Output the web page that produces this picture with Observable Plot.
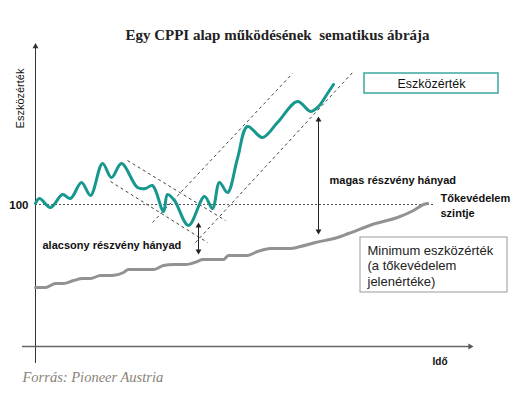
<!DOCTYPE html>
<html>
<head>
<meta charset="utf-8">
<script src="https://cdn.jsdelivr.net/npm/d3@7"></script>
<script src="https://cdn.jsdelivr.net/npm/@observablehq/plot@0.6"></script>
<style>
  html, body { margin: 0; padding: 0; background: #fff; }
</style>
</head>
<body>
<div id="chart"></div>
<script>
// Asset value (Eszközérték) — time units / value units
const tealT = [0,1,3.75,6.75,8.75,11.5,13.75,16.75,19,21.5,25.5,27.5,29.25,32,33,34.75,38.25,42.25,44.25,46,48,50.5,53,56.75,60.5,65.5,68.75,70.75,73,74.5];
const tealV = [100.5,103,98.5,105,103,111,104.5,120.5,113.5,120.5,108.5,108,109.5,96.5,105,102,89.5,104,98,111,106,123,139,133.5,141,151.5,146.5,149,155.5,160];

// Minimum asset value (floor)
const floorT = [0,2.5,5,7,9.5,11.75,13.75,16.25,19.25,22,23.25,29.5,32,34.5,37.5,40.5,41.75,47,48.25,53,55.5,58.75,63.75,66.25,70,75.5,78.25,85,90.5,94.5,97,98];
const floorV = [58.5,58.5,60.5,60.5,62,63,63,64.5,64.5,66,67.5,67.5,69.5,70,70,71.5,72.5,72.5,74.5,74.5,76.5,78,78,79,81,83.5,85.5,90.5,93.5,97,100,100.5];

// Capital protection level
const protectionLevel = 100;
const protectionEnd = 99.5;

// Dashed channel guides [x1, y1, x2, y2]
const guideLines = [
  [23, 122, 47.5, 92],
  [18.75, 111.5, 43, 81],
  [29.25, 91, 64.25, 165.5],
  [40, 81, 79.5, 166.5]
];

// Equity-share arrows [x, yTop, yBottom]
const shareArrows = [
  [40.75, 90.5, 75.5],
  [70.75, 143.5, 85.5]
];

// Axis extents
const yAxisExtent = [20.5, 180.5];
const xAxisExtent = [-3.25, 109.25];
const xAxisY = 29;

const title = "Egy CPPI alap működésének  sematikus ábrája";
const caption = "Forrás: Pioneer Austria";
const yLabel = "Eszközérték";
const xLabel = "Idő";
const tick100 = "100";
const lowLabel = "alacsony részvény hányad";
const highLabel = "magas részvény hányad";
const protectLabel = ["Tőkevédelem", "szintje"];
const legendTeal = "Eszközérték";
const legendFloor = ["Minimum eszközérték", "(a tőkevédelem", "jelenértéke)"];

const teal = tealT.map((t, i) => ({t, v: tealV[i]}));
const floor = floorT.map((t, i) => ({t, v: floorV[i]}));
const guides = guideLines.map(([x1, y1, x2, y2]) => ({x1, y1, x2, y2}));
const arrows = shareArrows.map(([x, top, bot]) => ({x, top, bot}));

const sans = "Liberation Sans, Arial, sans-serif";
const serif = "Liberation Serif, Times New Roman, serif";

const plot = Plot.plot({
  width: 528,
  height: 397,
  marginLeft: 35,
  marginRight: 56,
  marginTop: 43,
  marginBottom: 51,
  x: {domain: [0, 109.25], axis: null},
  y: {domain: [29, 180.5], axis: null},
  style: {background: "#fff", overflow: "visible"},
  marks: [
    // axes
    Plot.ruleX([0], {x: d => d, y1: yAxisExtent[0], y2: yAxisExtent[1] - 1, stroke: "#333", strokeWidth: 1}),
    Plot.dot([0], {x: d => d, y: yAxisExtent[1] - 1.5, symbol: "triangle", r: 2.2, fill: "#333", stroke: "none"}),
    Plot.ruleY([xAxisY], {y: d => d, x1: xAxisExtent[0], x2: xAxisExtent[1] - 0.5, stroke: "#666", strokeWidth: 1.3}),
    Plot.dot([xAxisY], {y: d => d, x: xAxisExtent[1] - 0.6, symbol: "triangle", rotate: 90, r: 2.2, fill: "#555", stroke: "none"}),

    // protection level
    Plot.ruleY([protectionLevel], {y: d => d, x1: 0, x2: protectionEnd, stroke: "#555", strokeWidth: 1, strokeDasharray: "2,2"}),

    // guides
    Plot.link(guides, {x1: "x1", y1: "y1", x2: "x2", y2: "y2", stroke: "#444", strokeWidth: 1, strokeDasharray: "3,3"}),

    // floor line
    Plot.line(floor, {x: "t", y: "v", stroke: "#929292", strokeWidth: 3, curve: "monotone-x"}),

    // asset value line
    Plot.line(teal, {x: "t", y: "v", stroke: "#17978d", strokeWidth: 3, curve: "catmull-rom"}),

    // double arrows
    Plot.ruleX(arrows, {x: "x", y1: d => d.top - 1, y2: d => d.bot + 1, stroke: "#222", strokeWidth: 1}),
    Plot.dot(arrows, {x: "x", y: d => d.top - 1.2, symbol: "triangle", r: 2.2, fill: "#222", stroke: "none"}),
    Plot.dot(arrows, {x: "x", y: d => d.bot + 1.2, symbol: "triangle", rotate: 180, r: 2.2, fill: "#222", stroke: "none"}),

    // legend boxes
    Plot.rect([legendTeal], {x1: 82.25, x2: 115.75, y1: 155.5, y2: 165.5, fill: "#fff", stroke: "#3aa9a0", strokeWidth: 1.5}),
    Plot.text([legendTeal], {x: 99, y: 160.5, text: d => d, fontFamily: sans, fontSize: 12.5, fill: "#111"}),
    Plot.rect([legendFloor], {x1: 81.25, x2: 118, y1: 56, y2: 83.5, fill: "#fff", stroke: "#999", strokeWidth: 1}),
    Plot.text(legendFloor, {x: 83, y: (d, i) => 77 - i * 7.75, text: d => d, textAnchor: "start", fontFamily: sans, fontSize: 13, fill: "#222"}),

    // labels
    Plot.text([tick100], {x: -1.75, y: 99.5, text: d => d, textAnchor: "end", fontFamily: sans, fontSize: 11.5, fontWeight: "bold", fill: "#111"}),
    Plot.text([yLabel], {x: -3.75, y: 153, text: d => d, rotate: -90, fontFamily: sans, fontSize: 11, fill: "#111"}),
    Plot.text([xLabel], {x: 99.25, y: 21.5, text: d => d, textAnchor: "start", fontFamily: sans, fontSize: 10, fontWeight: "bold", fill: "#111"}),
    Plot.text([lowLabel], {x: 1.75, y: 79.5, text: d => d, textAnchor: "start", fontFamily: sans, fontSize: 11, fontWeight: "bold", fill: "#111"}),
    Plot.text([highLabel], {x: 73.5, y: 112, text: d => d, textAnchor: "start", fontFamily: sans, fontSize: 11, fontWeight: "bold", fill: "#111"}),
    Plot.text(protectLabel, {x: 101.25, y: (d, i) => 103 - i * 7.5, text: d => d, textAnchor: "start", fontFamily: sans, fontSize: 11, fontWeight: "bold", fill: "#111"}),

    // title and caption
    Plot.text([title], {x: 60.5, y: 184.5, text: d => d, fontFamily: serif, fontSize: 15, fontWeight: "bold", fill: "#222"}),
    Plot.text([caption], {x: -3.25, y: 13.5, text: d => d, textAnchor: "start", fontFamily: serif, fontSize: 14.5, fontStyle: "italic", fill: "#8b8176"})
  ]
});
document.getElementById("chart").appendChild(plot);
</script>
</body>
</html>
